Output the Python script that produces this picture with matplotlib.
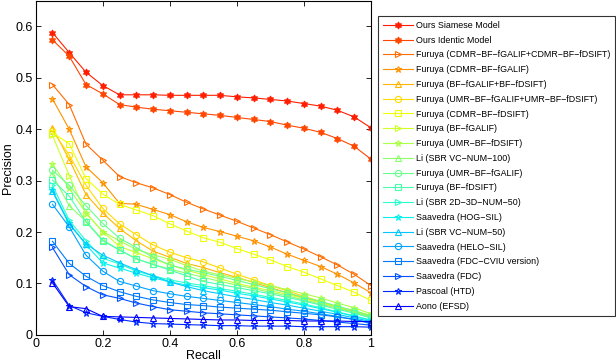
import matplotlib
matplotlib.use('Agg')
from matplotlib import pyplot as plt
import numpy as np

plt.rcParams['font.family'] = ['Liberation Sans', 'DejaVu Sans']

recall = [0.05, 0.10, 0.15, 0.20, 0.25, 0.30, 0.35, 0.40, 0.45, 0.50,
          0.55, 0.60, 0.65, 0.70, 0.75, 0.80, 0.85, 0.90, 0.95, 1.00]

names = ['Ours Siamese Model',
         'Ours Identic Model',
         'Furuya (CDMR\u2212BF\u2212fGALIF+CDMR\u2212BF\u2212fDSIFT)',
         'Furuya (CDMR\u2212BF\u2212fGALIF)',
         'Furuya (BF\u2212fGALIF+BF\u2212fDSIFT)',
         'Furuya (UMR\u2212BF\u2212fGALIF+UMR\u2212BF\u2212fDSIFT)',
         'Furuya (CDMR\u2212BF\u2212fDSIFT)',
         'Furuya (BF\u2212fGALIF)',
         'Furuya (UMR\u2212BF\u2212fDSIFT)',
         'Li (SBR VC\u2212NUM\u2212100)',
         'Furuya (UMR\u2212BF\u2212fGALIF)',
         'Furuya (BF\u2212fDSIFT)',
         'Li (SBR 2D\u22123D\u2212NUM\u221250)',
         'Saavedra (HOG\u2212SIL)',
         'Li (SBR VC\u2212NUM\u221250)',
         'Saavedra (HELO\u2212SIL)',
         'Saavedra (FDC\u2212CVIU version)',
         'Saavedra (FDC)',
         'Pascoal (HTD)',
         'Aono (EFSD)']

ours_siamese = [0.588, 0.549, 0.511, 0.485, 0.467, 0.467, 0.467, 0.466, 0.466, 0.466,
                0.466, 0.463, 0.461, 0.458, 0.455, 0.450, 0.445, 0.437, 0.424, 0.403]
ours_identic = [0.574, 0.542, 0.487, 0.469, 0.448, 0.443, 0.439, 0.436, 0.433, 0.430,
                0.427, 0.423, 0.419, 0.415, 0.408, 0.402, 0.394, 0.382, 0.367, 0.342]
furuya_cdmr_both = [0.487, 0.448, 0.371, 0.340, 0.308, 0.296, 0.286, 0.273, 0.258, 0.245,
                    0.233, 0.221, 0.208, 0.195, 0.181, 0.167, 0.152, 0.136, 0.118, 0.096]
furuya_cdmr_galif = [0.459, 0.400, 0.327, 0.296, 0.256, 0.254, 0.244, 0.234, 0.220, 0.209,
                     0.201, 0.192, 0.183, 0.171, 0.157, 0.145, 0.133, 0.118, 0.101, 0.082]
furuya_bf_both = [0.403, 0.341, 0.273, 0.237, 0.207, 0.183, 0.163, 0.151, 0.139, 0.131,
                  0.121, 0.112, 0.102, 0.092, 0.082, 0.072, 0.063, 0.054, 0.045, 0.034]
furuya_umr_both = [0.397, 0.350, 0.291, 0.246, 0.216, 0.195, 0.175, 0.161, 0.150, 0.142,
                   0.130, 0.118, 0.107, 0.096, 0.086, 0.075, 0.065, 0.055, 0.046, 0.036]
furuya_cdmr_dsift = [0.393, 0.372, 0.304, 0.274, 0.254, 0.243, 0.232, 0.216, 0.202, 0.189,
                     0.180, 0.168, 0.157, 0.146, 0.133, 0.122, 0.109, 0.096, 0.083, 0.067]
furuya_bf_galif = [0.388, 0.310, 0.236, 0.201, 0.172, 0.160, 0.148, 0.136, 0.126, 0.117,
                   0.109, 0.100, 0.093, 0.086, 0.079, 0.071, 0.063, 0.055, 0.047, 0.038]
furuya_umr_dsift = [0.332, 0.285, 0.237, 0.201, 0.183, 0.166, 0.156, 0.147, 0.135, 0.124,
                    0.117, 0.110, 0.103, 0.096, 0.088, 0.080, 0.072, 0.062, 0.053, 0.041]
li_vc100 = [0.312, 0.251, 0.221, 0.185, 0.165, 0.148, 0.137, 0.128, 0.120, 0.112,
            0.104, 0.097, 0.090, 0.083, 0.076, 0.068, 0.060, 0.052, 0.044, 0.035]
furuya_umr_galif = [0.320, 0.291, 0.251, 0.217, 0.188, 0.170, 0.151, 0.136, 0.128, 0.121,
                    0.114, 0.106, 0.098, 0.090, 0.082, 0.073, 0.065, 0.056, 0.047, 0.037]
furuya_bf_dsift = [0.301, 0.270, 0.220, 0.183, 0.165, 0.148, 0.137, 0.126, 0.115, 0.104,
                   0.098, 0.092, 0.086, 0.080, 0.073, 0.066, 0.058, 0.050, 0.042, 0.033]
li_2d3d = [0.291, 0.223, 0.183, 0.149, 0.138, 0.124, 0.115, 0.107, 0.101, 0.096,
           0.090, 0.085, 0.079, 0.073, 0.067, 0.060, 0.053, 0.045, 0.037, 0.029]
saavedra_hog = [0.281, 0.218, 0.175, 0.140, 0.130, 0.120, 0.111, 0.103, 0.097, 0.092,
                0.087, 0.081, 0.076, 0.070, 0.064, 0.058, 0.051, 0.044, 0.036, 0.028]
li_vc50 = [0.279, 0.215, 0.177, 0.155, 0.140, 0.127, 0.115, 0.103, 0.094, 0.086,
           0.080, 0.074, 0.069, 0.063, 0.058, 0.052, 0.046, 0.040, 0.033, 0.026]
saavedra_helo = [0.254, 0.210, 0.155, 0.124, 0.104, 0.095, 0.086, 0.080, 0.075, 0.071,
                 0.067, 0.063, 0.059, 0.055, 0.050, 0.046, 0.041, 0.036, 0.030, 0.024]
saavedra_fdc_cviu = [0.182, 0.139, 0.114, 0.096, 0.084, 0.075, 0.068, 0.063, 0.059, 0.057,
                     0.054, 0.052, 0.050, 0.048, 0.045, 0.042, 0.039, 0.035, 0.030, 0.022]
saavedra_fdc = [0.170, 0.117, 0.094, 0.078, 0.071, 0.062, 0.055, 0.049, 0.046, 0.043,
                0.041, 0.039, 0.037, 0.035, 0.033, 0.031, 0.028, 0.025, 0.022, 0.019]
pascoal_htd = [0.107, 0.057, 0.043, 0.036, 0.030, 0.025, 0.022, 0.021, 0.020, 0.019,
               0.018, 0.018, 0.017, 0.017, 0.017, 0.016, 0.016, 0.016, 0.016, 0.015]
aono_efsd = [0.101, 0.055, 0.051, 0.036, 0.035, 0.034, 0.033, 0.032, 0.031, 0.030,
             0.029, 0.029, 0.028, 0.028, 0.028, 0.027, 0.027, 0.027, 0.026, 0.026]

series = [ours_siamese, ours_identic, furuya_cdmr_both, furuya_cdmr_galif,
          furuya_bf_both, furuya_umr_both, furuya_cdmr_dsift, furuya_bf_galif,
          furuya_umr_dsift, li_vc100, furuya_umr_galif, furuya_bf_dsift,
          li_2d3d, saavedra_hog, li_vc50, saavedra_helo, saavedra_fdc_cviu,
          saavedra_fdc, pascoal_htd, aono_efsd]

markers = [(6, 1, 0), (6, 1, 0)] + ['>', '*', '^', 'o', 's'] * 3 + ['>', '*', '^']
colors = plt.cm.jet(np.linspace(0.875, 0.125, len(series)))

fig = plt.figure(figsize=(6.16, 3.64), dpi=100)
ax = fig.add_axes([0.058, 0.080, 0.544, 0.918])

for i, vals in enumerate(series):
    filled = i < 2
    ax.plot(recall, vals, color=colors[i], linewidth=0.8, marker=markers[i],
            markersize=5 if filled else 4.5,
            markerfacecolor=colors[i] if filled else 'none',
            markeredgewidth=0.8, label=names[i])

ax.set_xlim(0, 1)
ax.set_ylim(0, 0.65)
ax.set_xticks([0, 0.2, 0.4, 0.6, 0.8, 1])
ax.set_xticklabels(['0', '0.2', '0.4', '0.6', '0.8', '1'])
ax.set_yticks([0, 0.1, 0.2, 0.3, 0.4, 0.5, 0.6])
ax.set_yticklabels(['0', '0.1', '0.2', '0.3', '0.4', '0.5', '0.6'])
ax.tick_params(direction='in', top=True, right=True, labelsize=9, length=3.5,
               width=0.6, pad=2)
for s in ax.spines.values():
    s.set_linewidth(0.8)
ax.set_xlabel('Recall', fontsize=9, labelpad=0)
ax.set_ylabel('Precision', fontsize=9, labelpad=1)

leg = fig.legend(loc='upper left', bbox_to_anchor=(0.614, 0.956), fontsize=6.4,
                 frameon=True, fancybox=False, edgecolor='black',
                 handlelength=3.4, handletextpad=0.3, labelspacing=0.65,
                 borderpad=0.55, borderaxespad=0)
leg.get_frame().set_linewidth(0.8)

plt.savefig('out.png', dpi=100)
